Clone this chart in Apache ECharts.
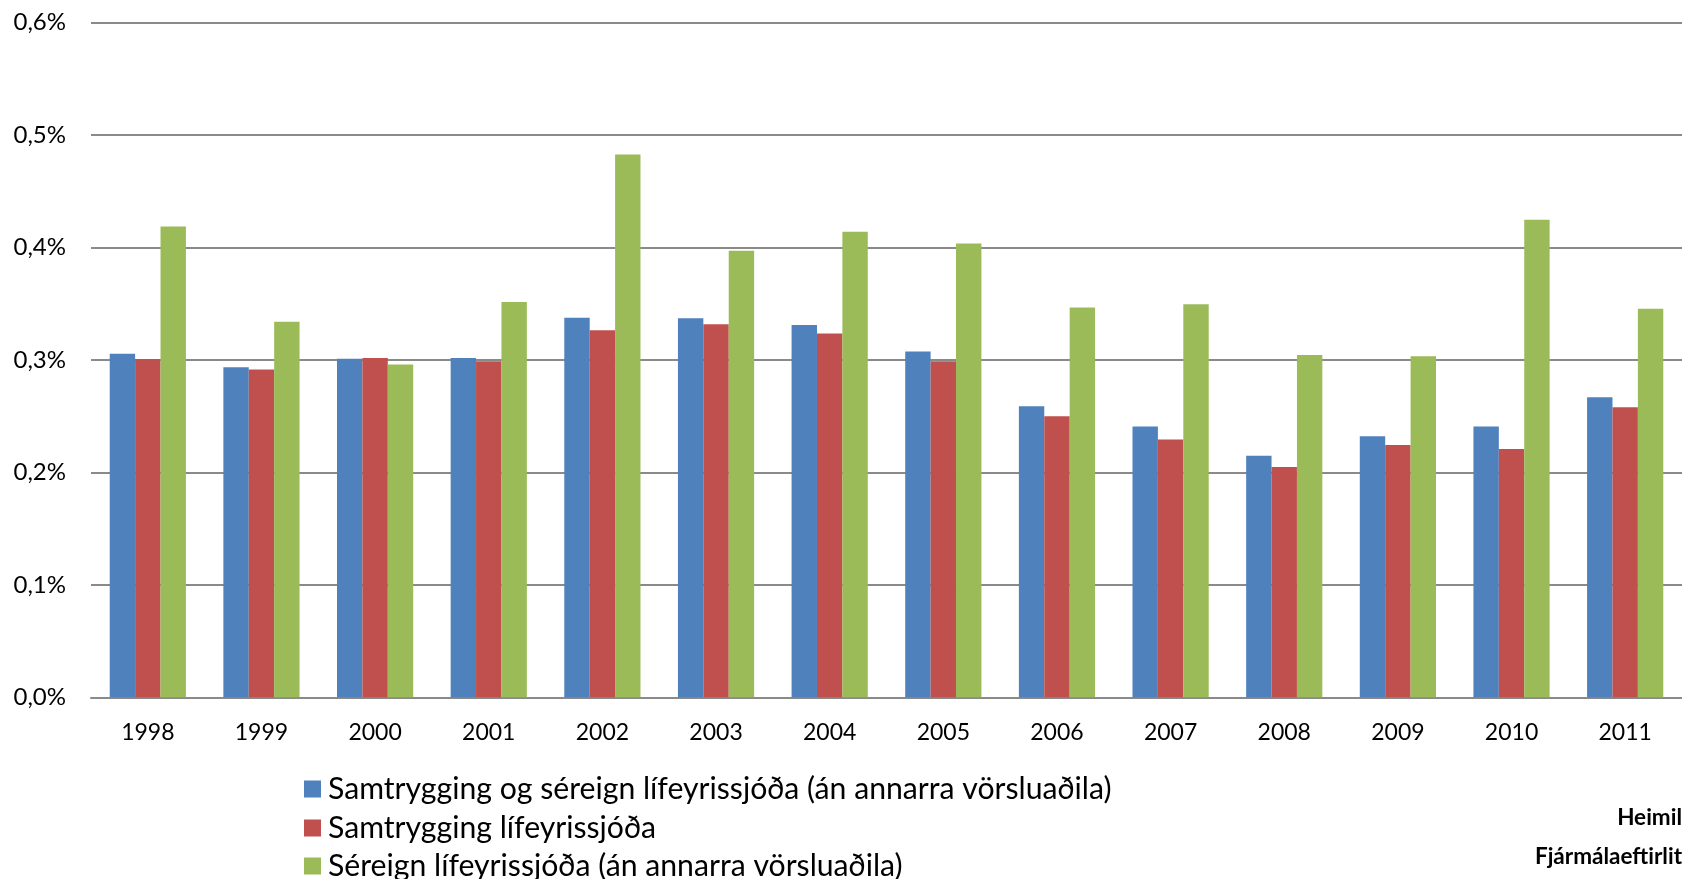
<!DOCTYPE html>
<html>
<head>
<meta charset="utf-8">
<script src="https://cdn.jsdelivr.net/npm/echarts@6/dist/echarts.min.js"></script>
<style>
  html, body { margin: 0; padding: 0; background: #fff; }
  #chart { width: 1682px; height: 879px; }
</style>
</head>
<body>
<div id="chart"></div>
<script>
// Categories (years)
const years = ['1998', '1999', '2000', '2001', '2002', '2003', '2004', '2005', '2006', '2007', '2008', '2009', '2010', '2011'];

// Series names
const seriesNames = [
  'Samtrygging og séreign lífeyrissjóða (án annarra vörsluaðila)',
  'Samtrygging lífeyrissjóða',
  'Séreign lífeyrissjóða (án annarra vörsluaðila)',
];

// Values in percent
const combinedValues = [0.3055, 0.2935, 0.301, 0.3016, 0.3375, 0.337, 0.331, 0.3074, 0.2587, 0.2407, 0.2148, 0.2321, 0.2407, 0.2668];
const mutualValues = [0.3008, 0.2915, 0.3016, 0.2987, 0.3264, 0.3318, 0.3235, 0.2988, 0.25, 0.2292, 0.2047, 0.2244, 0.2207, 0.258];
const privateValues = [0.4186, 0.334, 0.2958, 0.3515, 0.4827, 0.397, 0.414, 0.4036, 0.3466, 0.3495, 0.3044, 0.3033, 0.4247, 0.3455];

// Y axis ticks
const yMin = 0;
const yMax = 0.6;
const yStep = 0.1;

// Office palette
const colors = ['#4F81BD', '#C0504D', '#9BBB59'];

const fontFamily = 'Lato, "Open Sans", sans-serif';

const chart = echarts.init(document.getElementById('chart'));

const makeBar = (name, data, color) => ({
  name,
  type: 'bar',
  data,
  barWidth: 25.4,
  barGap: '0%',
  itemStyle: { color },
});

// One legend per row so the list never wraps into columns
const legendRowTops = [774, 813, 851];
const makeLegend = (name, top) => ({
  orient: 'vertical',
  left: 304,
  top,
  padding: 0,
  itemWidth: 17,
  itemHeight: 17,
  icon: 'rect',
  data: [name],
  textStyle: {
    fontFamily,
    fontSize: 30.2,
    color: '#000',
    lineHeight: 30,
    padding: [0, 0, 0, 2],
  },
});

const option = {
  animation: false,
  textStyle: { fontFamily },
  grid: {
    left: 91,
    right: -12,
    top: 22.5,
    bottom: 181.7,
  },
  legend: seriesNames.map((name, i) => makeLegend(name, legendRowTops[i])),
  xAxis: {
    type: 'category',
    data: years,
    axisLine: { lineStyle: { color: '#8a8a8a', width: 2 } },
    axisTick: { show: false },
    axisLabel: {
      color: '#000',
      fontSize: 23,
      margin: 24,
      interval: 0,
    },
  },
  yAxis: {
    type: 'value',
    min: yMin,
    max: yMax,
    interval: yStep,
    axisLine: { show: false },
    axisTick: { show: false },
    splitLine: { lineStyle: { color: '#8a8a8a', width: 2 } },
    axisLabel: {
      color: '#000',
      fontSize: 24,
      margin: 25,
      formatter: (v) => v.toFixed(1).replace('.', ',') + '%',
    },
  },
  graphic: [
    {
      type: 'text',
      right: 0,
      top: 806,
      style: {
        text: 'Heimil',
        font: 'bold 22.5px ' + fontFamily,
        fill: '#000',
        textAlign: 'right',
      },
    },
    {
      type: 'text',
      right: 0,
      top: 845,
      style: {
        text: 'Fjármálaeftirlit',
        font: 'bold 22.5px ' + fontFamily,
        fill: '#000',
        textAlign: 'right',
      },
    },
  ],
  series: [
    makeBar(seriesNames[0], combinedValues, colors[0]),
    makeBar(seriesNames[1], mutualValues, colors[1]),
    makeBar(seriesNames[2], privateValues, colors[2]),
  ],
};

chart.setOption(option);
</script>
</body>
</html>
